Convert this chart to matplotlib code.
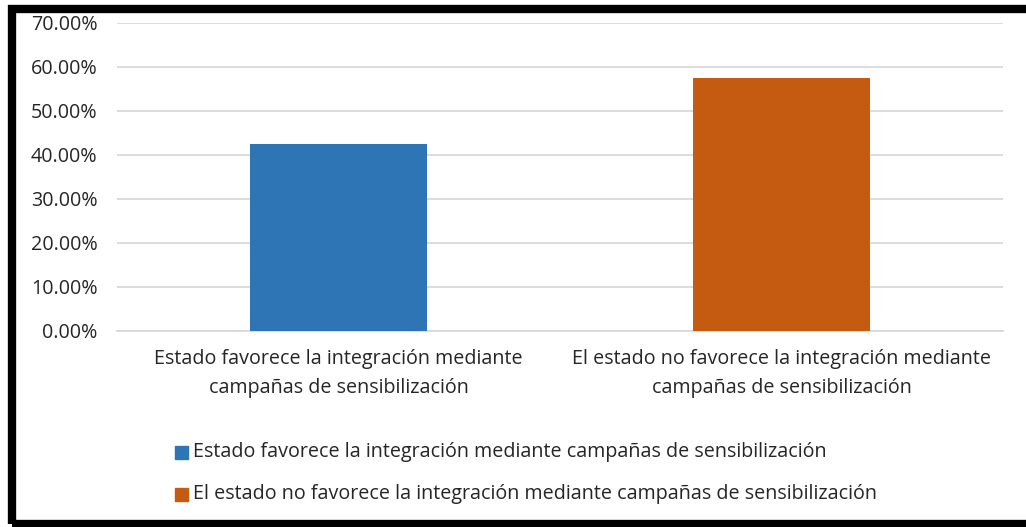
import matplotlib.pyplot as plt
from matplotlib.patches import Rectangle
from matplotlib.ticker import FuncFormatter, MultipleLocator

# Datos
categorias = ['Estado favorece la integración mediante\ncampañas de sensibilización',
              'El estado no favorece la integración mediante\ncampañas de sensibilización']
leyenda = ['Estado favorece la integración mediante campañas de sensibilización',
           'El estado no favorece la integración mediante campañas de sensibilización']
valores = [0.425, 0.575]
colores = ['#2E75B6', '#C55A11']

plt.rcParams['font.family'] = ['Open Sans', 'DejaVu Sans']
fs = 14.2

W, H = 1026, 527
fig = plt.figure(figsize=(W / 100, H / 100), dpi=100)
ax = fig.add_axes([117 / W, 1 - 331 / H, (1003 - 117) / W, (331 - 23) / H])

x = [0, 1]
for i in x:
    ax.bar(i, valores[i], width=0.4, color=colores[i], zorder=3)

ax.set_xlim(-0.5, 1.5)
ax.set_ylim(0, 0.70)
ax.yaxis.set_major_locator(MultipleLocator(0.10))
ax.yaxis.set_major_formatter(FuncFormatter(lambda v, p: f'{v * 100:.2f}%'))
ax.grid(axis='y', color='#D9D9D9', linewidth=1.3, zorder=0)
ax.set_xticks(x)
ax.set_xticklabels(categorias, fontsize=fs, color='#262626', linespacing=1.62)
ax.tick_params(axis='y', labelsize=fs, labelcolor='#262626', length=0, pad=14)
ax.tick_params(axis='x', length=0, pad=13)
for s in ax.spines.values():
    s.set_visible(False)
ax.spines['bottom'].set_visible(True)
ax.spines['bottom'].set_color('#D9D9D9')
ax.spines['bottom'].set_linewidth(1.3)

# Leyenda
for i, txt in enumerate(leyenda):
    yc = 1 - (452 + 42 * i) / H
    fig.patches.append(Rectangle((175 / W, yc - 6.5 / H), 13 / W, 13 / H,
                                 transform=fig.transFigure, color=colores[i]))
    fig.text(193 / W, yc, txt, fontsize=fs, color='#262626', va='center', ha='left')

# Marco negro
fig.patches.append(Rectangle((11.5 / W, 3.5 / H), 1.2, 1 - 12.5 / H,
                             transform=fig.transFigure, fill=False,
                             edgecolor='black', linewidth=6, clip_on=False))

fig.savefig('out.png', dpi=100)
